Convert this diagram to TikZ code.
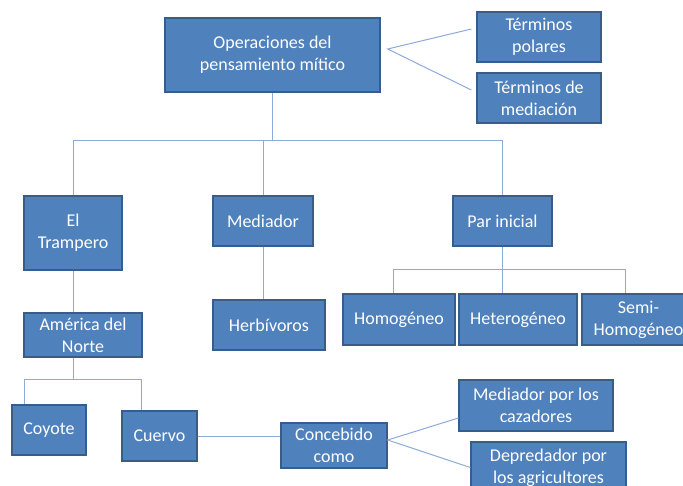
\documentclass[tikz,border=0pt]{standalone}
\usepackage{fontspec}
\setmainfont{Carlito}
\definecolor{boxfill}{HTML}{4F81BD}
\definecolor{boxline}{HTML}{385D8A}
\definecolor{connline}{HTML}{8EAADB}
\begin{document}
\begin{tikzpicture}[x=1pt,y=-1pt,
  box/.style={draw=boxline, line width=1.3pt, fill=boxfill, text=white, align=center,
    inner sep=0pt, font=\fontsize{18}{22}\selectfont},
  conn/.style={draw=connline, line width=1pt}]
\useasboundingbox (0,0) rectangle (683,486);
\fill[white] (0,0) rectangle (683,486);
\clip (0,0) rectangle (683,486);
% nodes
\node[box, minimum width=215pt, minimum height=74pt] (op) at (272.5,55) {Operaciones del\\pensamiento mítico};
\node[box, minimum width=124pt, minimum height=50pt] (tp) at (539,37) {Términos\\polares};
\node[box, minimum width=124pt, minimum height=50pt] (tm) at (539,98) {Términos de\\mediación};
\node[box, minimum width=98pt, minimum height=74pt] (tr) at (73,233) {El\\Trampero};
\node[box, minimum width=100pt, minimum height=50pt] (me) at (263,221) {Mediador};
\node[box, minimum width=99pt, minimum height=50pt] (pi) at (502.5,221) {Par inicial};
\node[box, minimum width=112pt, minimum height=51pt] (ho) at (399,319.5) {Homogéneo};
\node[box, minimum width=118pt, minimum height=51pt] (he) at (518,319.5) {Heterogéneo};
\node[box, minimum width=113pt, minimum height=51pt] (se) at (638.5,319.5) {Semi-\\Homogéneo};
\node[box, minimum width=112pt, minimum height=50pt] (hb) at (269,325) {Herbívoros};
\node[box, minimum width=118pt, minimum height=44pt] (am) at (83,335) {América del\\Norte};
\node[box, minimum width=74pt, minimum height=50pt] (co) at (49,430) {Coyote};
\node[box, minimum width=75pt, minimum height=50pt] (cu) at (159.5,436) {Cuervo};
\node[box, minimum width=106pt, minimum height=45pt] (cc) at (334,445.5) {Concebido\\como};
\node[box, minimum width=154pt, minimum height=51pt] (mc) at (536,405.5) {Mediador por los\\cazadores};
\node[box, minimum width=155pt, minimum height=51pt] (dp) at (548.5,467.5) {Depredador por\\los agricultores};
% helper levels
\coordinate (b1) at (0,141);
\coordinate (b2) at (0,270);
\coordinate (b3) at (0,380);
\coordinate (v1) at ([xshift=7pt,yshift=6pt]op.east);
\coordinate (v2) at ([yshift=5.5pt]cc.east);
% connectors
\draw[conn] (op.south) -- (op.south |- b1);
\draw[conn] (tr.north) -- (tr.north |- b1) -- (pi.north |- b1) -- (pi.north);
\draw[conn] (me.north) -- (me.north |- b1);
\draw[conn] ([xshift=-5pt,yshift=8pt]tp.west) -- (v1) -- ([xshift=-5pt,yshift=8pt]tm.west);
\draw[conn] (pi.south) -- (pi.south |- he.north);
\draw[conn] ([xshift=-6pt]ho.north) -- ([xshift=-6pt]ho.north |- b2) -- ([xshift=-13.5pt]se.north |- b2) -- ([xshift=-13.5pt]se.north);
\draw[conn] (me.south) -- (me.south |- hb.north);
\draw[conn] (tr.south) -- (tr.south |- am.north);
\draw[conn] (tr.south |- am.south) -- (tr.south |- b3);
\draw[conn] ([xshift=-25pt]co.north) -- ([xshift=-25pt]co.north |- b3) -- ([xshift=-18.5pt]cu.north |- b3) -- ([xshift=-18.5pt]cu.north);
\draw[conn] (cu.east) -- (cu.east -| cc.west);
\draw[conn] ([yshift=-12.5pt]mc.west) -- (v2) -- (dp.west);
\end{tikzpicture}
\end{document}
